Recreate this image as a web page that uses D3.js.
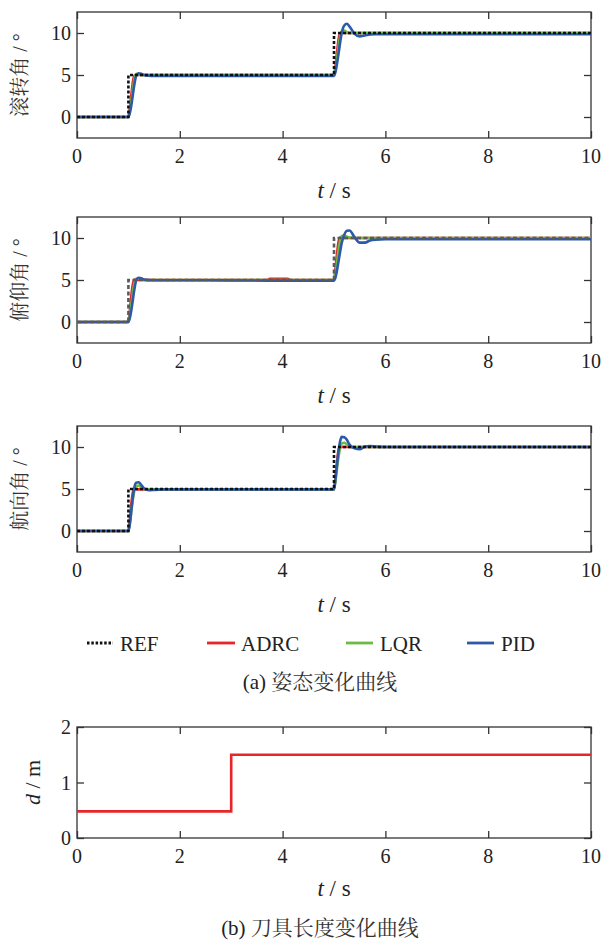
<!DOCTYPE html>
<html><head><meta charset="utf-8">
<script src="https://cdn.jsdelivr.net/npm/d3@7"></script>
</head><body style="margin:0;background:#fff">
<svg id="c" width="604" height="941" style="display:block"></svg>
<script>
// ---------- data ----------
const tResp = [0,1.0,1.03,1.06,1.09,1.12,1.15,1.2,1.25,1.3,1.4,1.5,1.7,2,3,3.7,3.75,4.1,4.15,5.0,5.03,5.06,5.09,5.12,5.15,5.2,5.25,5.3,5.4,5.5,5.6,5.7,5.8,6,7,10];
const refT = [0,1,5,10];
const refV = [0,5,10,10];

const rollADRC = [0,0,1.2,2.8,4.3,4.95,5,5,5,5,5,5,5,5,5,5,5,5,5, 5,6.2,7.8,9.3,9.95,10.05,10,10,10,10,10,10,10,10,10,10,10];
const rollLQR  = [0,0,0.8,2.0,3.4,4.6,5.1,5.1,5.0,5,5,5,5,5,5,5,5,5,5, 5,5.8,7.0,8.4,9.6,10.2,10.3,10.1,10.0,10,10,10,10,10,10,10,10];
const rollPID  = [0,0,0.5,1.5,2.8,4.0,4.9,5.2,5.15,5.0,4.92,4.9,4.9,4.9,4.9,4.9,4.9,4.9,4.9, 4.9,5.4,6.4,7.6,8.9,10.0,10.9,11.1,10.8,9.9,9.6,9.7,9.82,9.85,9.85,9.85,9.85];

const pitchADRC = [0,0,1.5,3.3,4.6,5.05,5.05,5.0,5.0,5,5,5,5,5,5,5,5.15,5.15,5.0, 5.0,6.5,8.2,9.6,10.05,10.05,10,10,10,10,10,10,10,10,10,10,10];
const pitchLQR  = [0,0,0.9,2.2,3.6,4.7,5.15,5.15,5.05,5.0,5,5,5,5,5,5,5,5,5, 5.0,5.9,7.2,8.6,9.7,10.25,10.3,10.15,10.05,10,10,10,10,10,10,10,10];
const pitchPID  = [0,0,0.5,1.5,2.8,4.0,4.9,5.27,5.2,5.05,4.98,4.97,4.97,4.97,4.95,4.93,4.93,4.93,4.93, 4.93,5.3,6.2,7.3,8.4,9.4,10.4,10.85,10.9,10.1,9.45,9.45,9.7,9.8,9.85,9.85,9.85];

const yawADRC = [0,0,1.5,3.4,4.7,5.0,4.97,4.95,4.95,4.95,4.95,4.95,4.95,4.95,4.95,4.95,4.95,4.95,4.95, 4.95,6.5,8.3,9.7,10.0,10.0,10,10,10,10,10,10,10,10,10,10,10];
const yawLQR  = [0,0,1.0,2.5,3.9,4.9,5.35,5.4,5.2,5.0,4.95,4.95,4.95,4.95,4.95,4.95,4.95,4.95,4.95, 4.95,6.0,7.5,8.9,9.9,10.4,10.5,10.3,10.05,9.95,10,10,10,10,10,10,10];
const yawPID  = [0,0,0.9,2.6,4.2,5.3,5.75,5.8,5.5,5.1,4.85,4.9,4.95,4.95,4.95,4.95,4.95,4.95,4.95, 4.95,6.3,8.0,9.6,10.7,11.2,11.15,10.85,10.3,9.85,9.75,10.05,10.12,10.05,10,10,10];

const toolT = [0,3,10];
const toolD = [0.48,1.5,1.5];

const xTicks = [0,2,4,6,8,10];
const yTicksAtt = [0,5,10];
const yTicksTool = [0,1,2];
const colors = {ADRC:"#e8262a", LQR:"#6cbb46", PID:"#2c5aa8"};

// ---------- drawing ----------
const SERIF = "'Liberation Serif','Times New Roman',serif";
const CJK = "'Noto Serif CJK SC','Noto Sans CJK SC',serif";
const svg = d3.select("#c").style("font-family", SERIF);
const X0 = 77, X1 = 591;
const x = d3.scaleLinear().domain([0,10]).range([X0,X1]);
const axisColor = "#333";
const txtColor = "#222";

function T(sel){ return sel.style("font-family",SERIF).attr("fill",txtColor); }

function frame(y, yTicks, top, bottom) {
  const g = svg.append("g");
  g.append("rect").attr("x",X0).attr("y",top).attr("width",X1-X0).attr("height",bottom-top)
    .attr("fill","none").attr("stroke",axisColor).attr("stroke-width",1.3);
  const xa = d3.axisBottom(x).tickValues(xTicks).tickSize(-7).tickFormat("");
  const xt = d3.axisTop(x).tickValues(xTicks).tickSize(-7).tickFormat("");
  const ya = d3.axisLeft(y).tickValues(yTicks).tickSize(-7).tickFormat("");
  const yr = d3.axisRight(y).tickValues(yTicks).tickSize(-7).tickFormat("");
  [[xa,`translate(0,${bottom})`],[xt,`translate(0,${top})`],[ya,`translate(${X0},0)`],[yr,`translate(${X1},0)`]].forEach(([a,tr])=>{
    const ag = g.append("g").attr("transform",tr).call(a);
    ag.select(".domain").remove();
    ag.selectAll("line").attr("stroke",axisColor).attr("stroke-width",1.3);
  });
  T(g.selectAll(".xl").data(xTicks).join("text"))
    .attr("x",d=>x(d)).attr("y",bottom+25).attr("text-anchor","middle")
    .attr("font-size",20).text(d=>d);
  T(g.selectAll(".yl").data(yTicks).join("text"))
    .attr("x",X0-6).attr("y",d=>y(d)+7).attr("text-anchor","end")
    .attr("font-size",20).text(d=>d);
  return g;
}

function xLabel(yb) {
  const t = T(svg.append("text")).attr("x",(X0+X1)/2).attr("y",yb).attr("text-anchor","middle").attr("font-size",23);
  t.append("tspan").attr("font-style","italic").text("t");
  t.append("tspan").text(" / s");
}

function yLabel(cx, cy, content, italicFirst) {
  const t = T(svg.append("text")).attr("transform",`translate(${cx},${cy}) rotate(-90)`)
    .attr("text-anchor","middle").attr("font-size",20).attr("dy","0.35em");
  if (italicFirst) {
    t.append("tspan").attr("font-style","italic").attr("font-size",22).text(content[0]);
    t.append("tspan").attr("font-size",22).text(content[1]);
  } else {
    t.append("tspan").style("font-family",CJK).attr("fill","#333").text(content[0]);
    t.append("tspan").attr("fill","#333").text(content[1]);
  }
}

const panels = [
  {top:12, bottom:138, label:"滚转角", data:[rollADRC,rollLQR,rollPID], ref:{color:"#111", dash:"3,2"}},
  {top:217, bottom:343, label:"俯仰角", data:[pitchADRC,pitchLQR,pitchPID], ref:{color:"#5a5a5a", dash:"4,2.5"}},
  {top:426, bottom:552, label:"航向角", data:[yawADRC,yawLQR,yawPID], ref:{color:"#111", dash:"3,2"}}
];

panels.forEach(p=>{
  const y = d3.scaleLinear().domain([-2.5,12.5]).range([p.bottom,p.top]);
  const g = frame(y, yTicksAtt, p.top, p.bottom);
  const line = d3.line().x(d=>x(d[0])).y(d=>y(d[1])).curve(d3.curveMonotoneX);
  ["ADRC","LQR","PID"].forEach((s,i)=>{
    const pts = tResp.map((t,k)=>[t,p.data[i][k]]);
    g.append("path").datum(pts).attr("d",line).attr("fill","none")
      .attr("stroke",colors[s]).attr("stroke-width",2.6).attr("stroke-linejoin","round");
  });
  const refLine = d3.line().x(d=>x(d[0])).y(d=>y(d[1])).curve(d3.curveStepAfter);
  g.append("path").datum(refT.map((t,k)=>[t,refV[k]])).attr("d",refLine).attr("fill","none")
    .attr("stroke",p.ref.color).attr("stroke-width",2.6).attr("stroke-dasharray",p.ref.dash);
  xLabel(p.bottom+60);
  yLabel(20,(p.top+p.bottom)/2,[p.label," / °"],false);
});

// legend
const legend = [
  {name:"REF", x1:87, x2:113, tx:120, color:"#111", dash:"2.5,1.8"},
  {name:"ADRC", x1:207, x2:235, tx:241, color:colors.ADRC, dash:null},
  {name:"LQR", x1:346, x2:373, tx:380, color:colors.LQR, dash:null},
  {name:"PID", x1:467, x2:494, tx:501, color:colors.PID, dash:null}
];
legend.forEach(l=>{
  const ln = svg.append("line").attr("x1",l.x1).attr("x2",l.x2).attr("y1",643).attr("y2",643)
    .attr("stroke",l.color).attr("stroke-width",2.8);
  if (l.dash) ln.attr("stroke-dasharray",l.dash);
  T(svg.append("text")).attr("x",l.tx).attr("y",651).attr("font-size",21).text(l.name);
});

function caption(yb, lead, cn) {
  const t = T(svg.append("text")).attr("x",320).attr("y",yb).attr("text-anchor","middle").attr("font-size",21);
  t.append("tspan").text(lead);
  t.append("tspan").style("font-family",CJK).attr("fill","#333").attr("font-size",21).text(cn);
}
caption(689,"(a) ","姿态变化曲线");

// tool length panel
{
  const top = 727, bottom = 838;
  const y = d3.scaleLinear().domain([0,2]).range([bottom,top]);
  const g = frame(y, yTicksTool, top, bottom);
  const line = d3.line().x(d=>x(d[0])).y(d=>y(d[1])).curve(d3.curveStepAfter);
  g.append("path").datum(toolT.map((t,k)=>[t,toolD[k]])).attr("d",line).attr("fill","none")
    .attr("stroke",colors.ADRC).attr("stroke-width",2.6);
  xLabel(bottom+58);
  yLabel(33,(top+bottom)/2,["d"," / m"],true);
  caption(935,"(b) ","刀具长度变化曲线");
}
</script>
</body></html>
